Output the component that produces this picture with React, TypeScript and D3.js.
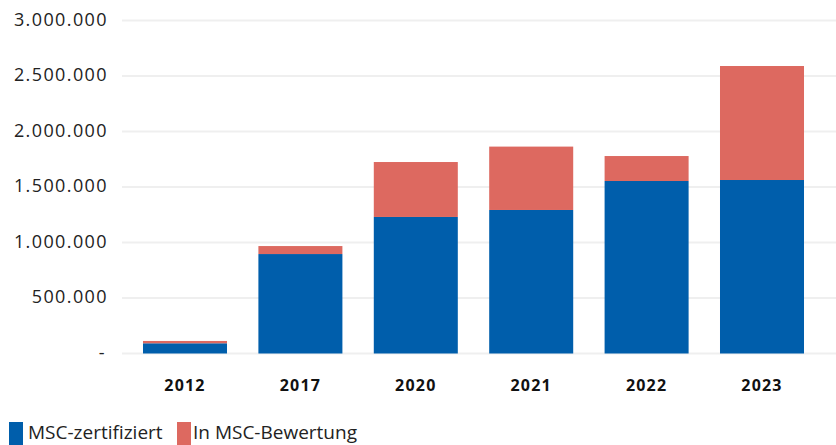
import React from "react";
import * as d3 from "d3";

const years = ["2012", "2017", "2020", "2021", "2022", "2023"];
const certified = [92000, 896000, 1230000, 1293000, 1554000, 1563000];
const inAssessment = [21000, 72000, 495000, 571000, 225000, 1027000];
const yTicks = [0, 500000, 1000000, 1500000, 2000000, 2500000, 3000000];
const seriesNames = ["MSC-zertifiziert", "In MSC-Bewertung"];
const colors = ["#005EAB", "#DD6960"];

const W = 836;
const H = 445;

export default function App() {
  const y = d3.scaleLinear().domain([0, 3000000]).range([353.5, 20.5]);
  const x = d3
    .scaleBand<string>()
    .domain(years)
    .range([127.3, 819.7])
    .paddingInner(0.272)
    .paddingOuter(0.136);

  const fmt = (v: number) =>
    v === 0 ? "-" : d3.format(",")(v).replace(/,/g, ".");

  const font = "'Open Sans', 'Noto Sans', sans-serif";

  return (
    <svg
      width={W}
      height={H}
      style={{ position: "absolute", left: 0, top: 0, background: "#fff" }}
      fontFamily={font}
    >
      {yTicks.map((t) => (
        <g key={t}>
          <line
            x1={122}
            x2={836}
            y1={y(t)}
            y2={y(t)}
            stroke="#efefef"
            strokeWidth={2}
          />
          <text
            x={t === 0 ? 106 : 108}
            y={y(t)}
            dy="0.3em"
            textAnchor="end"
            fontSize={18}
            letterSpacing={1.4}
            fill="#222"
          >
            {fmt(t)}
          </text>
        </g>
      ))}
      {years.map((yr, i) => {
        const x0 = x(yr)!;
        const bw = x.bandwidth();
        const c = certified[i];
        const a = inAssessment[i];
        return (
          <g key={yr}>
            <rect
              x={x0}
              width={bw}
              y={y(c)}
              height={y(0) - y(c)}
              fill={colors[0]}
            />
            <rect
              x={x0}
              width={bw}
              y={y(c + a)}
              height={y(c) - y(c + a)}
              fill={colors[1]}
            />
            <text
              x={x0 + bw / 2}
              y={391}
              textAnchor="middle"
              fontSize={16}
              letterSpacing={1.2}
              fontWeight="bold"
              fill="#111"
            >
              {yr}
            </text>
          </g>
        );
      })}
      <g>
        <rect x={9} y={422} width={14} height={23} fill={colors[0]} />
        <text x={28} y={439} fontSize={19} fill="#222">
          {seriesNames[0]}
        </text>
        <rect x={177} y={422} width={14} height={23} fill={colors[1]} />
        <text x={193} y={439} fontSize={19} fill="#222">
          {seriesNames[1]}
        </text>
      </g>
    </svg>
  );
}
